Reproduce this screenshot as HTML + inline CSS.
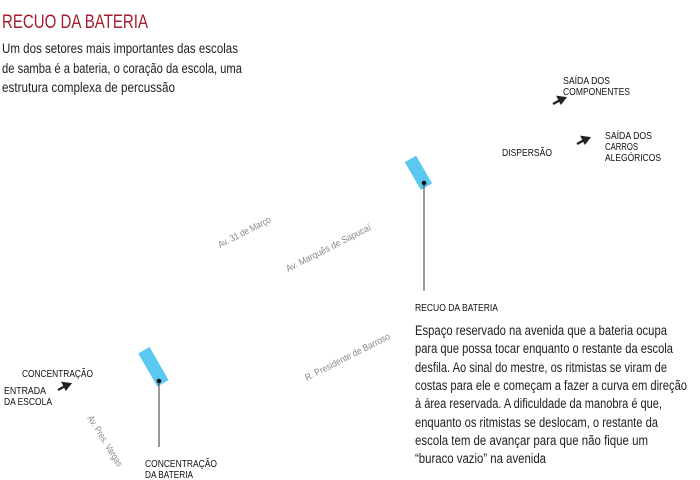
<!DOCTYPE html>
<html><head><meta charset="utf-8"><style>
html,body{margin:0;padding:0;background:#fff;}
svg{display:block;}
text{font-family:"Liberation Sans Narrow","Liberation Sans",sans-serif;}
</style></head><body>
<svg width="700" height="480" viewBox="0 0 700 480" xmlns="http://www.w3.org/2000/svg">
<text x="2" y="28" font-size="19" fill="#a51c30" textLength="146" lengthAdjust="spacingAndGlyphs">RECUO DA BATERIA</text>
<g font-size="13.5" fill="#222" lengthAdjust="spacingAndGlyphs">
<text x="2" y="53" textLength="236" lengthAdjust="spacingAndGlyphs">Um dos setores mais importantes das escolas</text>
<text x="2" y="73" textLength="240" lengthAdjust="spacingAndGlyphs">de samba é a bateria, o coração da escola, uma</text>
<text x="2" y="92" textLength="173" lengthAdjust="spacingAndGlyphs">estrutura complexa de percussão</text>
</g>
<g font-size="10" fill="#111">
<text x="563" y="84" textLength="47" lengthAdjust="spacingAndGlyphs">SAÍDA DOS</text>
<text x="563" y="95" textLength="67" lengthAdjust="spacingAndGlyphs">COMPONENTES</text>
<text x="605" y="139" textLength="47" lengthAdjust="spacingAndGlyphs">SAÍDA DOS</text>
<text x="605" y="150" textLength="33" lengthAdjust="spacingAndGlyphs">CARROS</text>
<text x="605" y="161" textLength="56" lengthAdjust="spacingAndGlyphs">ALEGÓRICOS</text>
<text x="502" y="156" textLength="50" lengthAdjust="spacingAndGlyphs">DISPERSÃO</text>
<text x="22" y="377" textLength="71" lengthAdjust="spacingAndGlyphs">CONCENTRAÇÃO</text>
<text x="4" y="394" textLength="42" lengthAdjust="spacingAndGlyphs">ENTRADA</text>
<text x="4" y="405" textLength="48" lengthAdjust="spacingAndGlyphs">DA ESCOLA</text>
<text x="145" y="467" textLength="72" lengthAdjust="spacingAndGlyphs">CONCENTRAÇÃO</text>
<text x="145" y="478" textLength="48" lengthAdjust="spacingAndGlyphs">DA BATERIA</text>
<text x="415" y="311" textLength="83" lengthAdjust="spacingAndGlyphs">RECUO DA BATERIA</text>
</g>
<g stroke="#222" stroke-width="2.2" fill="#222">
<line x1="553" y1="104" x2="562" y2="99"/><polygon points="565,98 558,97 561,103"/>
<line x1="577" y1="144" x2="586" y2="139"/><polygon points="589,138 582,137 585,143"/>
<line x1="58" y1="390" x2="67" y2="385"/><polygon points="70,384 63,383 66,389"/>
</g>
<rect x="-6" y="-16" width="13" height="32" fill="#5bc8f2" transform="translate(418,173) rotate(-30)"/>
<line x1="424" y1="183" x2="424" y2="291" stroke="#333" stroke-width="1"/>
<circle cx="424" cy="183" r="2.3" fill="#111"/>
<rect x="-6" y="-19" width="13" height="38" fill="#5bc8f2" transform="translate(153,367) rotate(-30)"/>
<line x1="159" y1="381" x2="159" y2="447" stroke="#333" stroke-width="1"/>
<circle cx="159" cy="381" r="2.3" fill="#111"/>
<g font-size="9.5" fill="#888">
<text transform="translate(220,248) rotate(-27)" textLength="58" lengthAdjust="spacingAndGlyphs">Av. 31 de Março</text>
<text transform="translate(288,272) rotate(-27)" textLength="94" lengthAdjust="spacingAndGlyphs">Av. Marquês de Sapucaí</text>
<text transform="translate(307,381) rotate(-27)" textLength="94" lengthAdjust="spacingAndGlyphs">R. Presidente de Barroso</text>
<text transform="translate(87,418) rotate(58)" textLength="58" lengthAdjust="spacingAndGlyphs">Av. Pres. Vargas</text>
</g>
<g font-size="13.5" fill="#222">
<text x="415" y="335" textLength="252" lengthAdjust="spacingAndGlyphs">Espaço reservado na avenida que a bateria ocupa</text>
<text x="415" y="353" textLength="258" lengthAdjust="spacingAndGlyphs">para que possa tocar enquanto o restante da escola</text>
<text x="415" y="372" textLength="252" lengthAdjust="spacingAndGlyphs">desfila. Ao sinal do mestre, os ritmistas se viram de</text>
<text x="415" y="390" textLength="272" lengthAdjust="spacingAndGlyphs">costas para ele e começam a fazer a curva em direção</text>
<text x="415" y="408" textLength="247" lengthAdjust="spacingAndGlyphs">à área reservada. A dificuldade da manobra é que,</text>
<text x="415" y="427" textLength="243" lengthAdjust="spacingAndGlyphs">enquanto os ritmistas se deslocam, o restante da</text>
<text x="415" y="445" textLength="233" lengthAdjust="spacingAndGlyphs">escola tem de avançar para que não fique um</text>
<text x="415" y="463" textLength="131" lengthAdjust="spacingAndGlyphs">“buraco vazio” na avenida</text>
</g>
</svg>
</body></html>
